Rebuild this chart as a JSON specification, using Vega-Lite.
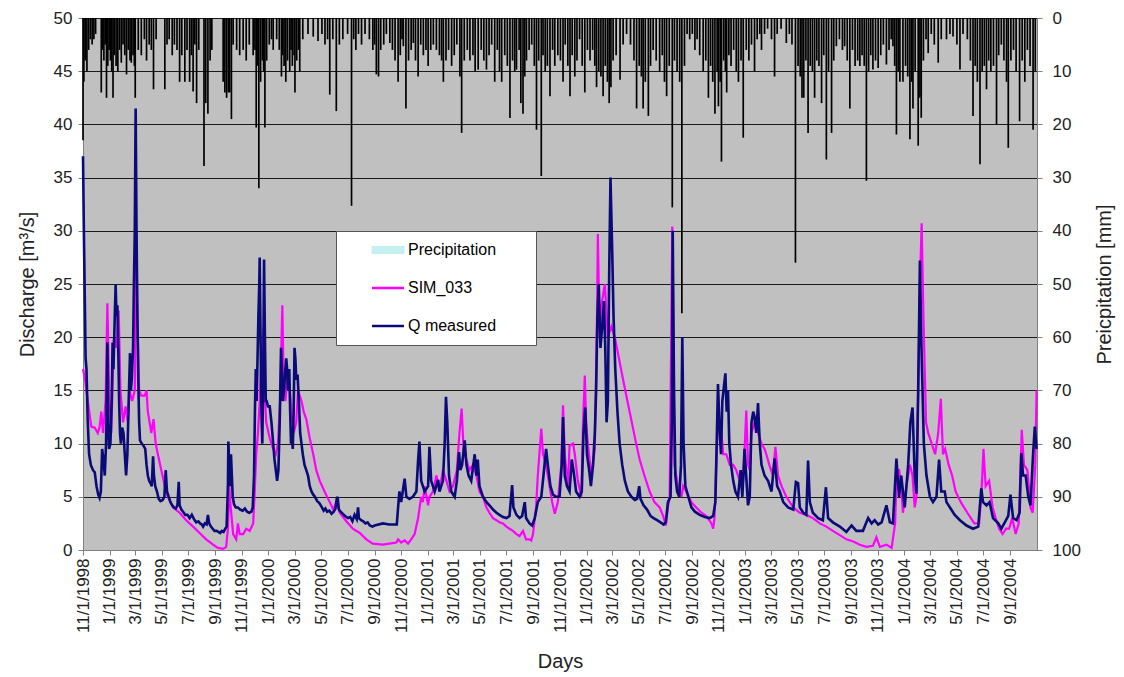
{
"$schema": "https://vega.github.io/schema/vega-lite/v6.json",
"width": 954, "height": 532,
"autosize": {"type": "none"},
"padding": {"left": 83, "top": 18, "right": 87, "bottom": 127},
"background": "white",
"config": {
 "view": {"fill": "#c0c0c0", "stroke": null},
 "font": "Liberation Sans",
 "axis": {"labelFont": "Liberation Sans", "titleFont": "Liberation Sans", "labelColor": "#222", "titleColor": "#222", "titleFontWeight": "normal", "domainColor": "#808080", "tickColor": "#808080", "tickSize": 5}
},
"datasets": {
"sim": [
{"d":"1998-11-01","v":17},{"d":"1998-11-06","v":16},{"d":"1998-11-12","v":14},{"d":"1998-11-20","v":11.6},{"d":"1998-11-28","v":11.5},{"d":"1998-12-05","v":11},{"d":"1998-12-09","v":11.5},{"d":"1998-12-13","v":13},{"d":"1998-12-17","v":11},{"d":"1998-12-23","v":14},{"d":"1998-12-27","v":23.2},{"d":"1998-12-31","v":15},
{"d":"1999-01-05","v":11},{"d":"1999-01-11","v":20},{"d":"1999-01-17","v":19},{"d":"1999-01-22","v":22.5},{"d":"1999-01-26","v":15},{"d":"1999-02-01","v":12},{"d":"1999-02-07","v":13.5},{"d":"1999-02-12","v":12},{"d":"1999-02-16","v":15},{"d":"1999-02-22","v":14},{"d":"1999-02-28","v":15},{"d":"1999-03-03","v":30},{"d":"1999-03-06","v":22},{"d":"1999-03-10","v":15},{"d":"1999-03-15","v":14.5},{"d":"1999-03-23","v":14.5},{"d":"1999-03-27","v":15},{"d":"1999-03-30","v":13},{"d":"1999-04-07","v":11},{"d":"1999-04-12","v":12.3},{"d":"1999-04-17","v":10},{"d":"1999-04-22","v":9},{"d":"1999-04-30","v":7.5},{"d":"1999-05-08","v":6},{"d":"1999-05-15","v":5},{"d":"1999-05-27","v":4},{"d":"1999-06-11","v":3.5},{"d":"1999-06-26","v":2.8},{"d":"1999-07-12","v":2.2},{"d":"1999-07-27","v":1.6},{"d":"1999-08-11","v":1.0},{"d":"1999-08-27","v":0.5},{"d":"1999-09-07","v":0.2},{"d":"1999-09-19","v":0.1},{"d":"1999-09-26","v":0.3},{"d":"1999-09-30","v":2},{"d":"1999-10-03","v":6},{"d":"1999-10-06","v":4.2},{"d":"1999-10-12","v":1.5},{"d":"1999-10-19","v":1.0},{"d":"1999-10-23","v":2.5},{"d":"1999-10-27","v":1.5},{"d":"1999-11-04","v":1.5},{"d":"1999-11-11","v":2},{"d":"1999-11-19","v":1.8},{"d":"1999-11-27","v":2.5},{"d":"1999-11-30","v":5},{"d":"1999-12-04","v":9},{"d":"1999-12-08","v":11},{"d":"1999-12-12","v":14},{"d":"1999-12-16","v":18},{"d":"1999-12-18","v":13},{"d":"1999-12-21","v":20.8},{"d":"1999-12-23","v":15},{"d":"1999-12-27","v":12},
{"d":"2000-01-04","v":10.5},{"d":"2000-01-12","v":9.5},{"d":"2000-01-18","v":9},{"d":"2000-01-23","v":10},{"d":"2000-01-28","v":14},{"d":"2000-02-02","v":23},{"d":"2000-02-05","v":16},{"d":"2000-02-09","v":14},{"d":"2000-02-15","v":17},{"d":"2000-02-23","v":13},{"d":"2000-02-28","v":11},{"d":"2000-03-05","v":12},{"d":"2000-03-09","v":15},{"d":"2000-03-17","v":14},{"d":"2000-03-22","v":13},{"d":"2000-03-28","v":12.3},{"d":"2000-04-05","v":10.5},{"d":"2000-04-13","v":9},{"d":"2000-04-20","v":7.5},{"d":"2000-04-28","v":6.5},{"d":"2000-05-09","v":5.5},{"d":"2000-05-21","v":4.5},{"d":"2000-05-29","v":3.8},{"d":"2000-06-05","v":4.5},{"d":"2000-06-13","v":3.5},{"d":"2000-06-28","v":2.7},{"d":"2000-07-13","v":2.0},{"d":"2000-07-29","v":1.6},{"d":"2000-08-13","v":1.0},{"d":"2000-08-28","v":0.6},{"d":"2000-09-20","v":0.5},{"d":"2000-10-05","v":0.6},{"d":"2000-10-21","v":0.7},{"d":"2000-10-25","v":1.0},{"d":"2000-11-01","v":0.7},{"d":"2000-11-09","v":0.9},{"d":"2000-11-17","v":0.6},{"d":"2000-11-24","v":1.0},{"d":"2000-12-02","v":1.5},{"d":"2000-12-10","v":3},{"d":"2000-12-17","v":5},{"d":"2000-12-21","v":4.5},{"d":"2000-12-25","v":6},
{"d":"2001-01-02","v":4.2},{"d":"2001-01-05","v":5},{"d":"2001-01-13","v":5.5},{"d":"2001-01-21","v":7},{"d":"2001-01-28","v":5.5},{"d":"2001-02-05","v":7.5},{"d":"2001-02-13","v":6.5},{"d":"2001-02-20","v":5.5},{"d":"2001-02-28","v":6},{"d":"2001-03-09","v":7.5},{"d":"2001-03-15","v":11},{"d":"2001-03-20","v":13.3},{"d":"2001-03-25","v":9},{"d":"2001-03-31","v":8.5},{"d":"2001-04-07","v":7.5},{"d":"2001-04-15","v":8},{"d":"2001-04-23","v":7},{"d":"2001-04-30","v":5.5},{"d":"2001-05-08","v":5},{"d":"2001-05-16","v":4},{"d":"2001-05-23","v":3.5},{"d":"2001-05-31","v":3},{"d":"2001-06-08","v":2.8},{"d":"2001-06-15","v":2.6},{"d":"2001-06-23","v":2.5},{"d":"2001-07-01","v":2.2},{"d":"2001-07-08","v":2.0},{"d":"2001-07-16","v":1.8},{"d":"2001-07-24","v":1.5},{"d":"2001-07-31","v":1.3},{"d":"2001-08-08","v":1.8},{"d":"2001-08-15","v":1.0},{"d":"2001-08-23","v":1.0},{"d":"2001-08-27","v":0.9},{"d":"2001-08-31","v":1.5},{"d":"2001-09-07","v":4},{"d":"2001-09-11","v":7},{"d":"2001-09-19","v":11.4},{"d":"2001-09-23","v":9},{"d":"2001-09-30","v":8},{"d":"2001-10-08","v":6},{"d":"2001-10-14","v":4.5},{"d":"2001-10-20","v":3.4},{"d":"2001-10-27","v":4.5},{"d":"2001-11-04","v":8},{"d":"2001-11-08","v":13.6},{"d":"2001-11-12","v":9},{"d":"2001-11-19","v":6},{"d":"2001-11-23","v":9.8},{"d":"2001-12-01","v":10},{"d":"2001-12-05","v":9},{"d":"2001-12-12","v":6.5},{"d":"2001-12-20","v":5},{"d":"2001-12-24","v":12},{"d":"2001-12-28","v":16.4},{"d":"2001-12-31","v":12},
{"d":"2002-01-04","v":10},{"d":"2002-01-08","v":8.5},{"d":"2002-01-12","v":7},{"d":"2002-01-20","v":9.5},{"d":"2002-01-25","v":22},{"d":"2002-01-27","v":29.7},{"d":"2002-01-31","v":20},{"d":"2002-02-04","v":23},{"d":"2002-02-12","v":25},{"d":"2002-02-19","v":20},{"d":"2002-02-27","v":21},{"d":"2002-03-07","v":20},{"d":"2002-03-26","v":16},{"d":"2002-04-10","v":13},{"d":"2002-04-25","v":10},{"d":"2002-05-03","v":8.5},{"d":"2002-05-14","v":7},{"d":"2002-05-26","v":5.5},{"d":"2002-06-06","v":4.5},{"d":"2002-06-18","v":4},{"d":"2002-06-26","v":3.2},{"d":"2002-07-02","v":2.3},{"d":"2002-07-07","v":4},{"d":"2002-07-11","v":5},{"d":"2002-07-17","v":30.4},{"d":"2002-07-22","v":8},{"d":"2002-07-30","v":6},{"d":"2002-08-07","v":5},{"d":"2002-08-11","v":6},{"d":"2002-08-18","v":5.5},{"d":"2002-08-30","v":4.5},{"d":"2002-09-10","v":4},{"d":"2002-09-22","v":3.5},{"d":"2002-10-03","v":3.2},{"d":"2002-10-15","v":2.5},{"d":"2002-10-19","v":2.0},{"d":"2002-10-22","v":3},{"d":"2002-10-26","v":8},{"d":"2002-10-30","v":12.3},{"d":"2002-11-07","v":11},{"d":"2002-11-11","v":9},{"d":"2002-11-18","v":9},{"d":"2002-11-26","v":8},{"d":"2002-12-04","v":8},{"d":"2002-12-11","v":7.5},{"d":"2002-12-19","v":6.5},{"d":"2002-12-27","v":6.5},
{"d":"2003-01-03","v":13.1},{"d":"2003-01-07","v":8},{"d":"2003-01-11","v":7.5},{"d":"2003-01-15","v":11},{"d":"2003-01-22","v":12},{"d":"2003-01-30","v":11},{"d":"2003-02-07","v":10},{"d":"2003-02-14","v":9.5},{"d":"2003-02-18","v":9},{"d":"2003-02-25","v":8},{"d":"2003-03-05","v":7},{"d":"2003-03-11","v":9.7},{"d":"2003-03-17","v":7},{"d":"2003-03-25","v":6},{"d":"2003-04-05","v":5},{"d":"2003-04-21","v":4},{"d":"2003-05-06","v":3.5},{"d":"2003-05-21","v":3.3},{"d":"2003-06-05","v":3.0},{"d":"2003-06-21","v":2.5},{"d":"2003-07-06","v":2.2},{"d":"2003-07-21","v":1.8},{"d":"2003-08-06","v":1.4},{"d":"2003-08-21","v":1.0},{"d":"2003-09-06","v":0.8},{"d":"2003-09-21","v":0.5},{"d":"2003-10-06","v":0.3},{"d":"2003-10-21","v":0.4},{"d":"2003-10-29","v":1.2},{"d":"2003-11-06","v":0.3},{"d":"2003-11-21","v":0.5},{"d":"2003-12-03","v":0.2},{"d":"2003-12-11","v":2.5},{"d":"2003-12-14","v":6.5},{"d":"2003-12-20","v":7.6},{"d":"2003-12-25","v":6},{"d":"2003-12-29","v":3.5},
{"d":"2004-01-06","v":6},{"d":"2004-01-14","v":8},{"d":"2004-01-20","v":7},{"d":"2004-01-25","v":4},{"d":"2004-01-29","v":5},{"d":"2004-02-02","v":15},{"d":"2004-02-06","v":25},{"d":"2004-02-10","v":30.7},{"d":"2004-02-14","v":22},{"d":"2004-02-20","v":12},{"d":"2004-02-25","v":11},{"d":"2004-03-04","v":10},{"d":"2004-03-12","v":9},{"d":"2004-03-19","v":11},{"d":"2004-03-25","v":14.2},{"d":"2004-03-30","v":9},{"d":"2004-04-04","v":9.5},{"d":"2004-04-12","v":8},{"d":"2004-04-20","v":7},{"d":"2004-04-28","v":5.5},{"d":"2004-05-10","v":4.5},{"d":"2004-05-25","v":3.5},{"d":"2004-06-10","v":2.5},{"d":"2004-06-21","v":2.5},{"d":"2004-06-26","v":5},{"d":"2004-07-01","v":9.5},{"d":"2004-07-06","v":6},{"d":"2004-07-14","v":6.5},{"d":"2004-07-22","v":4},{"d":"2004-07-29","v":3},{"d":"2004-08-06","v":2},{"d":"2004-08-14","v":1.5},{"d":"2004-08-22","v":2},{"d":"2004-08-29","v":2},{"d":"2004-09-05","v":3},{"d":"2004-09-13","v":1.5},{"d":"2004-09-20","v":2.5},{"d":"2004-09-27","v":11.3},{"d":"2004-10-02","v":8},{"d":"2004-10-10","v":7.5},{"d":"2004-10-17","v":4},{"d":"2004-10-22","v":3.5},{"d":"2004-10-28","v":8},{"d":"2004-10-31","v":15}
],
"q": [
{"d":"1998-11-01","v":37},{"d":"1998-11-03","v":30},{"d":"1998-11-05","v":24},{"d":"1998-11-07","v":18},{"d":"1998-11-09","v":17},{"d":"1998-11-12","v":12},{"d":"1998-11-15","v":9},{"d":"1998-11-19","v":8},{"d":"1998-11-24","v":7.5},{"d":"1998-11-28","v":7.3},{"d":"1998-12-02","v":6},{"d":"1998-12-06","v":5.2},{"d":"1998-12-09","v":4.9},{"d":"1998-12-12","v":5.5},{"d":"1998-12-15","v":9.5},{"d":"1998-12-18","v":8.5},{"d":"1998-12-21","v":7},{"d":"1998-12-24","v":10},{"d":"1998-12-27","v":19.5},{"d":"1998-12-29","v":12},{"d":"1998-12-31","v":9.5},
{"d":"1999-01-03","v":10},{"d":"1999-01-06","v":14},{"d":"1999-01-08","v":19.5},{"d":"1999-01-10","v":17},{"d":"1999-01-13","v":22},{"d":"1999-01-15","v":24.9},{"d":"1999-01-17","v":22},{"d":"1999-01-19","v":23},{"d":"1999-01-21","v":19},{"d":"1999-01-23","v":14},{"d":"1999-01-25","v":11},{"d":"1999-01-27","v":10},{"d":"1999-01-30","v":11.5},{"d":"1999-02-02","v":11},{"d":"1999-02-05","v":9},{"d":"1999-02-08","v":7},{"d":"1999-02-11","v":9},{"d":"1999-02-14","v":14},{"d":"1999-02-17","v":18.5},{"d":"1999-02-19","v":15},{"d":"1999-02-21","v":16},{"d":"1999-02-24","v":19},{"d":"1999-02-26","v":25},{"d":"1999-02-28","v":30},{"d":"1999-03-02","v":41.5},{"d":"1999-03-04","v":30},{"d":"1999-03-06","v":22},{"d":"1999-03-08","v":16},{"d":"1999-03-10","v":12},{"d":"1999-03-12","v":10.3},{"d":"1999-03-16","v":10},{"d":"1999-03-20","v":9.8},{"d":"1999-03-24","v":9.5},{"d":"1999-03-27","v":8},{"d":"1999-03-30","v":7},{"d":"1999-04-02","v":6.5},{"d":"1999-04-05","v":6.3},{"d":"1999-04-08","v":6},{"d":"1999-04-11","v":8.8},{"d":"1999-04-13","v":7},{"d":"1999-04-16","v":6},{"d":"1999-04-20","v":5.5},{"d":"1999-04-24","v":4.8},{"d":"1999-04-28","v":4.6},{"d":"1999-05-03","v":4.7},{"d":"1999-05-07","v":5},{"d":"1999-05-10","v":7.5},{"d":"1999-05-13","v":5.5},{"d":"1999-05-17","v":5},{"d":"1999-05-21","v":4.5},{"d":"1999-05-25","v":4.2},{"d":"1999-05-29","v":4},{"d":"1999-06-02","v":3.9},{"d":"1999-06-06","v":4.2},{"d":"1999-06-09","v":6.4},{"d":"1999-06-11","v":4.2},{"d":"1999-06-15","v":3.8},{"d":"1999-06-19","v":3.6},{"d":"1999-06-24","v":3.3},{"d":"1999-06-29","v":3.3},{"d":"1999-07-04","v":3.0},{"d":"1999-07-09","v":3.3},{"d":"1999-07-14","v":2.9},{"d":"1999-07-19","v":2.6},{"d":"1999-07-24","v":2.7},{"d":"1999-07-28","v":2.5},{"d":"1999-08-01","v":2.4},{"d":"1999-08-04","v":2.2},{"d":"1999-08-08","v":2.5},{"d":"1999-08-12","v":2.4},{"d":"1999-08-15","v":3.3},{"d":"1999-08-18","v":2.5},{"d":"1999-08-22","v":2.2},{"d":"1999-08-26","v":2.0},{"d":"1999-08-30","v":1.8},{"d":"1999-09-04","v":1.8},{"d":"1999-09-08","v":1.7},{"d":"1999-09-12","v":1.6},{"d":"1999-09-16","v":1.8},{"d":"1999-09-20","v":1.7},{"d":"1999-09-24","v":2.0},{"d":"1999-09-27","v":2.2},{"d":"1999-09-30","v":6},{"d":"1999-10-01","v":10.2},{"d":"1999-10-03","v":8},{"d":"1999-10-05","v":6},{"d":"1999-10-07","v":9},{"d":"1999-10-09","v":7},{"d":"1999-10-11","v":5},{"d":"1999-10-14","v":4.3},{"d":"1999-10-18","v":4.0},{"d":"1999-10-23","v":4.0},{"d":"1999-10-28","v":3.8},{"d":"1999-11-03","v":3.7},{"d":"1999-11-08","v":3.9},{"d":"1999-11-13","v":3.6},{"d":"1999-11-18","v":3.5},{"d":"1999-11-23","v":3.6},{"d":"1999-11-26","v":4.0},{"d":"1999-11-29","v":7},{"d":"1999-12-01","v":13},{"d":"1999-12-03","v":17},{"d":"1999-12-05","v":14},{"d":"1999-12-07","v":18},{"d":"1999-12-09","v":22},{"d":"1999-12-11","v":25},{"d":"1999-12-12","v":27.5},{"d":"1999-12-14","v":20},{"d":"1999-12-16","v":13},{"d":"1999-12-18","v":10},{"d":"1999-12-20","v":16},{"d":"1999-12-22","v":27.3},{"d":"1999-12-24","v":20},{"d":"1999-12-26","v":14},{"d":"1999-12-28","v":14},{"d":"1999-12-31","v":13.5},
{"d":"2000-01-04","v":13.5},{"d":"2000-01-08","v":12},{"d":"2000-01-12","v":10},{"d":"2000-01-15","v":8.5},{"d":"2000-01-18","v":7.5},{"d":"2000-01-21","v":6.5},{"d":"2000-01-24","v":7.5},{"d":"2000-01-27","v":12},{"d":"2000-01-30","v":19},{"d":"2000-02-01","v":17},{"d":"2000-02-03","v":14},{"d":"2000-02-06","v":15},{"d":"2000-02-09","v":17},{"d":"2000-02-11","v":18},{"d":"2000-02-13","v":17},{"d":"2000-02-15","v":15},{"d":"2000-02-18","v":17},{"d":"2000-02-20","v":13},{"d":"2000-02-22","v":10},{"d":"2000-02-24","v":10.5},{"d":"2000-02-26","v":9.5},{"d":"2000-02-28","v":13},{"d":"2000-03-01","v":19},{"d":"2000-03-03","v":18},{"d":"2000-03-05","v":16},{"d":"2000-03-08","v":16.5},{"d":"2000-03-11","v":14},{"d":"2000-03-14","v":11},{"d":"2000-03-17","v":10},{"d":"2000-03-20","v":9},{"d":"2000-03-24","v":8},{"d":"2000-03-28","v":7.5},{"d":"2000-04-01","v":7},{"d":"2000-04-05","v":6},{"d":"2000-04-09","v":5.5},{"d":"2000-04-13","v":5.2},{"d":"2000-04-17","v":5},{"d":"2000-04-22","v":4.6},{"d":"2000-04-27","v":4.4},{"d":"2000-05-03","v":4.0},{"d":"2000-05-07","v":3.7},{"d":"2000-05-11","v":3.9},{"d":"2000-05-15","v":3.6},{"d":"2000-05-20","v":3.7},{"d":"2000-05-25","v":3.4},{"d":"2000-05-30","v":3.6},{"d":"2000-06-03","v":3.9},{"d":"2000-06-06","v":4.8},{"d":"2000-06-08","v":5.0},{"d":"2000-06-11","v":3.8},{"d":"2000-06-15","v":3.6},{"d":"2000-06-20","v":3.4},{"d":"2000-06-25","v":3.2},{"d":"2000-07-02","v":3.0},{"d":"2000-07-07","v":3.1},{"d":"2000-07-12","v":2.7},{"d":"2000-07-17","v":3.3},{"d":"2000-07-22","v":2.9},{"d":"2000-07-25","v":4.0},{"d":"2000-07-27","v":3.0},{"d":"2000-08-01","v":2.8},{"d":"2000-08-06","v":2.7},{"d":"2000-08-11","v":2.5},{"d":"2000-08-16","v":2.6},{"d":"2000-08-21","v":2.3},{"d":"2000-08-27","v":2.2},{"d":"2000-09-01","v":2.3},{"d":"2000-09-20","v":2.5},{"d":"2000-10-05","v":2.4},{"d":"2000-10-22","v":2.4},{"d":"2000-10-25","v":4.0},{"d":"2000-10-28","v":5.5},{"d":"2000-11-01","v":4.5},{"d":"2000-11-09","v":6.7},{"d":"2000-11-13","v":5.0},{"d":"2000-11-20","v":4.8},{"d":"2000-11-28","v":5.0},{"d":"2000-12-06","v":5.5},{"d":"2000-12-10","v":8.5},{"d":"2000-12-13","v":10.2},{"d":"2000-12-17","v":6.5},{"d":"2000-12-25","v":5.5},
{"d":"2001-01-02","v":6.0},{"d":"2001-01-05","v":9.7},{"d":"2001-01-09","v":6.5},{"d":"2001-01-17","v":5.5},{"d":"2001-01-25","v":6.6},{"d":"2001-01-28","v":5.5},{"d":"2001-02-05","v":6.5},{"d":"2001-02-09","v":10},{"d":"2001-02-12","v":14.4},{"d":"2001-02-15","v":12},{"d":"2001-02-19","v":7},{"d":"2001-02-24","v":5.5},{"d":"2001-03-04","v":5.0},{"d":"2001-03-09","v":6.5},{"d":"2001-03-14","v":9.2},{"d":"2001-03-17","v":7.5},{"d":"2001-03-21","v":8},{"d":"2001-03-27","v":10.3},{"d":"2001-03-31","v":8},{"d":"2001-04-05","v":7},{"d":"2001-04-11","v":6.5},{"d":"2001-04-19","v":9.0},{"d":"2001-04-23","v":7},{"d":"2001-04-26","v":8.5},{"d":"2001-04-30","v":6},{"d":"2001-05-08","v":5.0},{"d":"2001-05-16","v":4.5},{"d":"2001-05-23","v":4.2},{"d":"2001-05-31","v":3.8},{"d":"2001-06-08","v":3.5},{"d":"2001-06-15","v":3.3},{"d":"2001-06-23","v":3.1},{"d":"2001-07-01","v":3.0},{"d":"2001-07-08","v":3.2},{"d":"2001-07-14","v":6.1},{"d":"2001-07-17","v":4.0},{"d":"2001-07-24","v":3.3},{"d":"2001-07-31","v":3.0},{"d":"2001-08-06","v":3.2},{"d":"2001-08-12","v":4.5},{"d":"2001-08-15","v":3.0},{"d":"2001-08-23","v":2.5},{"d":"2001-08-29","v":2.3},{"d":"2001-09-04","v":3.0},{"d":"2001-09-11","v":4.5},{"d":"2001-09-19","v":5.0},{"d":"2001-09-24","v":7},{"d":"2001-09-30","v":9.5},{"d":"2001-10-04","v":8},{"d":"2001-10-10","v":6},{"d":"2001-10-16","v":5.2},{"d":"2001-10-23","v":5.0},{"d":"2001-10-31","v":5.0},{"d":"2001-11-05","v":8},{"d":"2001-11-08","v":12.5},{"d":"2001-11-12","v":7},{"d":"2001-11-17","v":6},{"d":"2001-11-23","v":5.5},{"d":"2001-11-28","v":8.5},{"d":"2001-12-02","v":7.5},{"d":"2001-12-08","v":5.5},{"d":"2001-12-16","v":5.0},{"d":"2001-12-21","v":5.5},{"d":"2001-12-25","v":11},{"d":"2001-12-29","v":13.4},
{"d":"2002-01-02","v":9},{"d":"2002-01-07","v":7.5},{"d":"2002-01-11","v":6},{"d":"2002-01-16","v":8},{"d":"2002-01-20","v":11},{"d":"2002-01-23","v":15},{"d":"2002-01-26","v":22},{"d":"2002-01-29","v":25},{"d":"2002-02-02","v":19},{"d":"2002-02-06","v":21},{"d":"2002-02-10","v":23.4},{"d":"2002-02-13","v":19},{"d":"2002-02-16","v":12},{"d":"2002-02-19","v":14},{"d":"2002-02-22","v":26},{"d":"2002-02-25","v":35},{"d":"2002-03-01","v":28},{"d":"2002-03-04","v":22},{"d":"2002-03-08","v":17},{"d":"2002-03-13","v":13},{"d":"2002-03-18","v":10},{"d":"2002-03-24","v":8},{"d":"2002-03-30","v":6.5},{"d":"2002-04-06","v":5.5},{"d":"2002-04-14","v":5.0},{"d":"2002-04-22","v":4.7},{"d":"2002-04-27","v":4.8},{"d":"2002-05-02","v":6.0},{"d":"2002-05-05","v":4.8},{"d":"2002-05-12","v":4.2},{"d":"2002-05-20","v":3.8},{"d":"2002-05-28","v":3.2},{"d":"2002-06-04","v":3.0},{"d":"2002-06-12","v":2.8},{"d":"2002-06-20","v":2.6},{"d":"2002-06-27","v":2.4},{"d":"2002-07-02","v":2.6},{"d":"2002-07-07","v":4.5},{"d":"2002-07-13","v":5.0},{"d":"2002-07-16","v":12},{"d":"2002-07-18","v":30},{"d":"2002-07-21","v":15},{"d":"2002-07-24","v":7},{"d":"2002-07-28","v":5.5},{"d":"2002-08-02","v":5.0},{"d":"2002-08-06","v":8},{"d":"2002-08-09","v":20},{"d":"2002-08-12","v":10},{"d":"2002-08-16","v":6},{"d":"2002-08-23","v":5.0},{"d":"2002-08-30","v":4.0},{"d":"2002-09-07","v":3.6},{"d":"2002-09-18","v":3.3},{"d":"2002-09-30","v":3.1},{"d":"2002-10-11","v":3.0},{"d":"2002-10-19","v":3.2},{"d":"2002-10-24","v":4.5},{"d":"2002-10-27","v":10},{"d":"2002-10-30","v":15.6},{"d":"2002-11-03","v":11},{"d":"2002-11-06","v":9},{"d":"2002-11-09","v":14},{"d":"2002-11-13","v":15.5},{"d":"2002-11-16","v":16.6},{"d":"2002-11-19","v":13},{"d":"2002-11-22","v":15},{"d":"2002-11-25","v":10},{"d":"2002-11-29","v":8},{"d":"2002-12-04","v":6.5},{"d":"2002-12-09","v":5.5},{"d":"2002-12-15","v":5.0},{"d":"2002-12-21","v":7.5},{"d":"2002-12-25","v":5.0},{"d":"2002-12-30","v":9.5},
{"d":"2003-01-07","v":4.2},{"d":"2003-01-11","v":5},{"d":"2003-01-15","v":12},{"d":"2003-01-19","v":13},{"d":"2003-01-22","v":12.5},{"d":"2003-01-26","v":11},{"d":"2003-01-30","v":13.8},{"d":"2003-02-03","v":10},{"d":"2003-02-07","v":8},{"d":"2003-02-14","v":7},{"d":"2003-02-22","v":6.5},{"d":"2003-03-02","v":5.5},{"d":"2003-03-09","v":8.6},{"d":"2003-03-15","v":6},{"d":"2003-03-21","v":5.5},{"d":"2003-03-29","v":4.5},{"d":"2003-04-09","v":4.0},{"d":"2003-04-21","v":3.8},{"d":"2003-04-27","v":6.4},{"d":"2003-05-02","v":6.3},{"d":"2003-05-06","v":4},{"d":"2003-05-14","v":3.5},{"d":"2003-05-21","v":3.3},{"d":"2003-05-25","v":8.4},{"d":"2003-05-29","v":4.5},{"d":"2003-06-05","v":3.5},{"d":"2003-06-17","v":3.0},{"d":"2003-06-28","v":2.8},{"d":"2003-07-05","v":5.9},{"d":"2003-07-10","v":3.0},{"d":"2003-07-21","v":2.6},{"d":"2003-08-06","v":2.2},{"d":"2003-08-21","v":1.7},{"d":"2003-09-02","v":2.3},{"d":"2003-09-13","v":1.8},{"d":"2003-09-28","v":1.8},{"d":"2003-10-10","v":3.0},{"d":"2003-10-18","v":2.5},{"d":"2003-10-25","v":2.8},{"d":"2003-11-02","v":2.4},{"d":"2003-11-10","v":2.6},{"d":"2003-11-21","v":4.2},{"d":"2003-11-29","v":2.6},{"d":"2003-12-06","v":2.5},{"d":"2003-12-14","v":8.6},{"d":"2003-12-20","v":5},{"d":"2003-12-25","v":7},{"d":"2003-12-29","v":5.5},
{"d":"2004-01-02","v":4.0},{"d":"2004-01-10","v":8},{"d":"2004-01-15","v":12},{"d":"2004-01-20","v":13.4},{"d":"2004-01-25","v":7},{"d":"2004-01-29","v":5.3},{"d":"2004-02-02","v":15},{"d":"2004-02-06","v":27.2},{"d":"2004-02-09","v":20},{"d":"2004-02-15","v":10},{"d":"2004-02-21","v":7},{"d":"2004-02-29","v":5},{"d":"2004-03-07","v":4.5},{"d":"2004-03-15","v":5},{"d":"2004-03-21","v":8.5},{"d":"2004-03-26","v":5.5},{"d":"2004-04-03","v":5.5},{"d":"2004-04-07","v":4.5},{"d":"2004-04-15","v":4},{"d":"2004-04-26","v":3.3},{"d":"2004-05-08","v":2.8},{"d":"2004-05-23","v":2.3},{"d":"2004-06-07","v":2.0},{"d":"2004-06-19","v":2.2},{"d":"2004-06-26","v":5.8},{"d":"2004-06-30","v":4.5},{"d":"2004-07-08","v":4.2},{"d":"2004-07-15","v":4.5},{"d":"2004-07-23","v":3},{"d":"2004-08-04","v":2.5},{"d":"2004-08-11","v":2.0},{"d":"2004-08-19","v":2.6},{"d":"2004-08-27","v":3.2},{"d":"2004-09-01","v":5.2},{"d":"2004-09-07","v":3},{"d":"2004-09-15","v":2.8},{"d":"2004-09-22","v":3.5},{"d":"2004-09-26","v":9.1},{"d":"2004-09-30","v":7},{"d":"2004-10-06","v":7},{"d":"2004-10-12","v":5},{"d":"2004-10-17","v":4.2},{"d":"2004-10-23","v":9},{"d":"2004-10-27","v":11.6},{"d":"2004-10-31","v":9.5}
],
"p": [
{"d":"1998-11-01","p":23},{"d":"1998-11-03","p":12},{"d":"1998-11-06","p":8},{"d":"1998-11-10","p":10},{"d":"1998-11-14","p":6},{"d":"1998-11-18","p":4},{"d":"1998-11-22","p":5},{"d":"1998-11-26","p":4},{"d":"1998-11-30","p":3},{"d":"1998-12-13","p":14},{"d":"1998-12-16","p":6},{"d":"1998-12-19","p":8},{"d":"1998-12-22","p":5},{"d":"1998-12-25","p":15},{"d":"1998-12-28","p":9},{"d":"1998-12-31","p":6},
{"d":"1999-01-03","p":8},{"d":"1999-01-06","p":10},{"d":"1999-01-09","p":15},{"d":"1999-01-12","p":7},{"d":"1999-01-16","p":9},{"d":"1999-01-20","p":10},{"d":"1999-01-24","p":6},{"d":"1999-01-28","p":8.4},{"d":"1999-02-01","p":5},{"d":"1999-02-05","p":7},{"d":"1999-02-09","p":10.6},{"d":"1999-02-13","p":6},{"d":"1999-02-17","p":8},{"d":"1999-02-20","p":8.4},{"d":"1999-02-24","p":7},{"d":"1999-02-27","p":9},{"d":"1999-03-01","p":15},{"d":"1999-03-08","p":6},{"d":"1999-03-15","p":7},{"d":"1999-03-22","p":4},{"d":"1999-03-27","p":8},{"d":"1999-04-02","p":5},{"d":"1999-04-07","p":6},{"d":"1999-04-12","p":13.4},{"d":"1999-04-18","p":4},{"d":"1999-05-08","p":13.4},{"d":"1999-05-13","p":5},{"d":"1999-05-18","p":4},{"d":"1999-05-25","p":7},{"d":"1999-05-30","p":5},{"d":"1999-06-05","p":6},{"d":"1999-06-11","p":12},{"d":"1999-06-16","p":7},{"d":"1999-06-23","p":12},{"d":"1999-06-28","p":6},{"d":"1999-07-04","p":12},{"d":"1999-07-08","p":7},{"d":"1999-07-12","p":13.8},{"d":"1999-07-16","p":5},{"d":"1999-07-20","p":16},{"d":"1999-07-25","p":6},{"d":"1999-08-06","p":27.8},{"d":"1999-08-10","p":16},{"d":"1999-08-15","p":18},{"d":"1999-08-20","p":8},{"d":"1999-08-24","p":6},{"d":"1999-09-19","p":12},{"d":"1999-09-23","p":14},{"d":"1999-09-27","p":15},{"d":"1999-10-01","p":14},{"d":"1999-10-04","p":14},{"d":"1999-10-08","p":19},{"d":"1999-10-12","p":5},{"d":"1999-10-20","p":6},{"d":"1999-10-27","p":7},{"d":"1999-11-04","p":6},{"d":"1999-11-11","p":8},{"d":"1999-11-18","p":5},{"d":"1999-11-27","p":7},{"d":"1999-12-01","p":6},{"d":"1999-12-04","p":20.6},{"d":"1999-12-07","p":9},{"d":"1999-12-10","p":32},{"d":"1999-12-14","p":12},{"d":"1999-12-18","p":8},{"d":"1999-12-21","p":10},{"d":"1999-12-24","p":20.6},{"d":"1999-12-28","p":8},
{"d":"2000-01-03","p":5},{"d":"2000-01-08","p":4},{"d":"2000-01-12","p":6},{"d":"2000-01-20","p":4},{"d":"2000-01-26","p":6},{"d":"2000-01-31","p":11},{"d":"2000-02-03","p":7},{"d":"2000-02-06","p":9},{"d":"2000-02-10","p":12},{"d":"2000-02-14","p":8},{"d":"2000-02-19","p":10},{"d":"2000-02-22","p":6},{"d":"2000-02-25","p":9},{"d":"2000-02-29","p":7},{"d":"2000-03-02","p":14},{"d":"2000-03-06","p":8},{"d":"2000-03-10","p":6},{"d":"2000-03-13","p":10},{"d":"2000-03-20","p":4},{"d":"2000-04-01","p":3},{"d":"2000-04-13","p":3.5},{"d":"2000-04-24","p":4.3},{"d":"2000-05-03","p":3},{"d":"2000-05-10","p":5},{"d":"2000-05-16","p":4},{"d":"2000-05-21","p":14.4},{"d":"2000-05-28","p":4},{"d":"2000-06-05","p":17.5},{"d":"2000-06-12","p":5},{"d":"2000-06-20","p":4},{"d":"2000-07-01","p":3},{"d":"2000-07-10","p":35.3},{"d":"2000-07-15","p":4},{"d":"2000-07-20","p":6},{"d":"2000-07-26","p":3},{"d":"2000-08-02","p":5},{"d":"2000-08-10","p":3},{"d":"2000-08-20","p":4},{"d":"2000-08-28","p":6},{"d":"2000-09-01","p":5},{"d":"2000-09-05","p":10.6},{"d":"2000-09-10","p":11},{"d":"2000-09-15","p":6},{"d":"2000-09-22","p":5},{"d":"2000-09-28","p":3},{"d":"2000-10-06","p":4.7},{"d":"2000-10-12","p":6},{"d":"2000-10-18","p":8},{"d":"2000-10-25","p":12},{"d":"2000-10-30","p":7},{"d":"2000-11-03","p":4},{"d":"2000-11-06","p":5.3},{"d":"2000-11-12","p":17},{"d":"2000-11-18","p":8},{"d":"2000-11-24","p":6},{"d":"2000-11-29","p":4.7},{"d":"2000-12-04","p":8},{"d":"2000-12-10","p":11},{"d":"2000-12-16","p":5},{"d":"2000-12-22","p":7},{"d":"2000-12-28","p":6},
{"d":"2001-01-02","p":9},{"d":"2001-01-08","p":6},{"d":"2001-01-14","p":5},{"d":"2001-01-21","p":6},{"d":"2001-01-28","p":7},{"d":"2001-02-02","p":8},{"d":"2001-02-06","p":12},{"d":"2001-02-12","p":8},{"d":"2001-02-18","p":6},{"d":"2001-02-25","p":9},{"d":"2001-03-03","p":7},{"d":"2001-03-09","p":5},{"d":"2001-03-16","p":11},{"d":"2001-03-20","p":21.6},{"d":"2001-03-26","p":8},{"d":"2001-04-02","p":6},{"d":"2001-04-08","p":8},{"d":"2001-04-15","p":7},{"d":"2001-04-20","p":10},{"d":"2001-04-27","p":9.7},{"d":"2001-05-04","p":6},{"d":"2001-05-10","p":8},{"d":"2001-05-16","p":9.7},{"d":"2001-05-22","p":7},{"d":"2001-05-28","p":5},{"d":"2001-06-04","p":12},{"d":"2001-06-10","p":6},{"d":"2001-06-15","p":10},{"d":"2001-06-20","p":12},{"d":"2001-06-27","p":7},{"d":"2001-07-03","p":9},{"d":"2001-07-09","p":18.8},{"d":"2001-07-15","p":8},{"d":"2001-07-20","p":10},{"d":"2001-07-24","p":9.7},{"d":"2001-07-30","p":6},{"d":"2001-08-03","p":16},{"d":"2001-08-08","p":18},{"d":"2001-08-12","p":11},{"d":"2001-08-16","p":8},{"d":"2001-08-22","p":6},{"d":"2001-08-28","p":5},{"d":"2001-09-03","p":9},{"d":"2001-09-08","p":21},{"d":"2001-09-13","p":8},{"d":"2001-09-19","p":29.7},{"d":"2001-09-23","p":7},{"d":"2001-09-28","p":10},{"d":"2001-10-03","p":9},{"d":"2001-10-09","p":14.7},{"d":"2001-10-15","p":6},{"d":"2001-10-20","p":9},{"d":"2001-10-27","p":7},{"d":"2001-11-02","p":8},{"d":"2001-11-08","p":12},{"d":"2001-11-13","p":5},{"d":"2001-11-19","p":9},{"d":"2001-11-24","p":14.7},{"d":"2001-11-29","p":7},{"d":"2001-12-05","p":11},{"d":"2001-12-10","p":8},{"d":"2001-12-16","p":4},{"d":"2001-12-22","p":9},{"d":"2001-12-28","p":14},
{"d":"2002-01-03","p":6},{"d":"2002-01-09","p":8},{"d":"2002-01-15","p":6},{"d":"2002-01-20","p":9},{"d":"2002-01-24","p":13},{"d":"2002-01-29","p":10},{"d":"2002-02-03","p":11},{"d":"2002-02-08","p":14.7},{"d":"2002-02-13","p":9},{"d":"2002-02-18","p":12},{"d":"2002-02-22","p":16},{"d":"2002-02-26","p":13},{"d":"2002-03-03","p":8},{"d":"2002-03-10","p":7},{"d":"2002-03-19","p":11.6},{"d":"2002-03-26","p":5},{"d":"2002-04-03","p":3},{"d":"2002-04-12","p":5},{"d":"2002-04-20","p":8},{"d":"2002-04-26","p":17},{"d":"2002-05-02","p":9},{"d":"2002-05-07","p":11},{"d":"2002-05-11","p":17},{"d":"2002-05-16","p":12},{"d":"2002-05-23","p":18.4},{"d":"2002-05-28","p":9},{"d":"2002-06-03","p":6},{"d":"2002-06-10","p":8},{"d":"2002-06-18","p":10},{"d":"2002-06-24","p":7},{"d":"2002-06-29","p":12},{"d":"2002-07-04","p":14.7},{"d":"2002-07-10","p":9},{"d":"2002-07-17","p":35.6},{"d":"2002-07-22","p":8},{"d":"2002-07-28","p":10},{"d":"2002-08-03","p":12},{"d":"2002-08-08","p":55.5},{"d":"2002-08-14","p":9},{"d":"2002-08-20","p":3},{"d":"2002-08-26","p":4},{"d":"2002-09-01","p":3},{"d":"2002-09-07","p":6},{"d":"2002-09-12","p":4},{"d":"2002-09-18","p":7},{"d":"2002-09-26","p":10},{"d":"2002-10-02","p":8},{"d":"2002-10-08","p":15},{"d":"2002-10-13","p":9},{"d":"2002-10-18","p":12},{"d":"2002-10-23","p":18},{"d":"2002-10-28","p":10},{"d":"2002-10-31","p":16.6},{"d":"2002-11-04","p":12},{"d":"2002-11-07","p":27},{"d":"2002-11-12","p":8},{"d":"2002-11-16","p":10},{"d":"2002-11-19","p":14},{"d":"2002-11-24","p":7},{"d":"2002-11-29","p":9},{"d":"2002-12-05","p":6},{"d":"2002-12-11","p":10},{"d":"2002-12-16","p":12},{"d":"2002-12-22","p":8},{"d":"2002-12-27","p":22.5},
{"d":"2003-01-03","p":6},{"d":"2003-01-09","p":8},{"d":"2003-01-15","p":5},{"d":"2003-01-22","p":10},{"d":"2003-01-28","p":4},{"d":"2003-02-03","p":3},{"d":"2003-02-07","p":6},{"d":"2003-02-14","p":3},{"d":"2003-02-21","p":2},{"d":"2003-03-02","p":4},{"d":"2003-03-09","p":11},{"d":"2003-03-15","p":3},{"d":"2003-03-24","p":2},{"d":"2003-04-05","p":4.7},{"d":"2003-04-12","p":3},{"d":"2003-04-18","p":5},{"d":"2003-04-26","p":46},{"d":"2003-05-02","p":9},{"d":"2003-05-07","p":11},{"d":"2003-05-11","p":15},{"d":"2003-05-15","p":15},{"d":"2003-05-20","p":8},{"d":"2003-05-25","p":21.6},{"d":"2003-05-30","p":9},{"d":"2003-06-04","p":10},{"d":"2003-06-09","p":15},{"d":"2003-06-14","p":8},{"d":"2003-06-19","p":9},{"d":"2003-06-25","p":16},{"d":"2003-06-30","p":7},{"d":"2003-07-06","p":26.6},{"d":"2003-07-11","p":10},{"d":"2003-07-18","p":21.6},{"d":"2003-07-23","p":8},{"d":"2003-07-29","p":5.3},{"d":"2003-08-05","p":4},{"d":"2003-08-12","p":6},{"d":"2003-08-17","p":5.3},{"d":"2003-08-23","p":8},{"d":"2003-08-29","p":17},{"d":"2003-09-04","p":6},{"d":"2003-09-10","p":9},{"d":"2003-09-16","p":8},{"d":"2003-09-21","p":9},{"d":"2003-09-26","p":7},{"d":"2003-10-01","p":9},{"d":"2003-10-06","p":30.6},{"d":"2003-10-11","p":10},{"d":"2003-10-16","p":7},{"d":"2003-10-21","p":9.7},{"d":"2003-10-27","p":8},{"d":"2003-11-02","p":9.4},{"d":"2003-11-08","p":7},{"d":"2003-11-14","p":5},{"d":"2003-11-21","p":8.75},{"d":"2003-11-27","p":6},{"d":"2003-12-02","p":4},{"d":"2003-12-06","p":5.3},{"d":"2003-12-10","p":9},{"d":"2003-12-14","p":21.9},{"d":"2003-12-18","p":10},{"d":"2003-12-22","p":12},{"d":"2003-12-29","p":12},
{"d":"2004-01-04","p":9},{"d":"2004-01-09","p":11},{"d":"2004-01-14","p":22.8},{"d":"2004-01-18","p":12},{"d":"2004-01-21","p":17},{"d":"2004-01-26","p":10},{"d":"2004-02-02","p":24},{"d":"2004-02-06","p":15},{"d":"2004-02-09","p":18.75},{"d":"2004-02-14","p":8},{"d":"2004-02-20","p":4},{"d":"2004-02-25","p":6.6},{"d":"2004-03-03","p":3},{"d":"2004-03-10","p":5},{"d":"2004-03-19","p":8.4},{"d":"2004-03-26","p":4},{"d":"2004-04-07","p":4},{"d":"2004-04-15","p":3},{"d":"2004-04-22","p":3.5},{"d":"2004-05-01","p":5},{"d":"2004-05-08","p":9.7},{"d":"2004-05-15","p":3},{"d":"2004-05-25","p":4},{"d":"2004-06-01","p":8},{"d":"2004-06-07","p":18.4},{"d":"2004-06-12","p":9},{"d":"2004-06-17","p":12},{"d":"2004-06-23","p":27.5},{"d":"2004-06-28","p":10},{"d":"2004-07-03","p":9},{"d":"2004-07-08","p":13.4},{"d":"2004-07-13","p":8},{"d":"2004-07-18","p":10},{"d":"2004-07-24","p":9},{"d":"2004-07-31","p":20},{"d":"2004-08-05","p":7},{"d":"2004-08-11","p":5},{"d":"2004-08-17","p":8},{"d":"2004-08-23","p":12},{"d":"2004-08-27","p":24.4},{"d":"2004-09-02","p":8},{"d":"2004-09-08","p":6},{"d":"2004-09-14","p":10},{"d":"2004-09-22","p":19.4},{"d":"2004-09-28","p":8},{"d":"2004-10-04","p":12},{"d":"2004-10-10","p":6},{"d":"2004-10-16","p":9},{"d":"2004-10-23","p":21},{"d":"2004-10-28","p":10}
]
},
"encoding": {
 "x": {"field": "d", "type": "temporal",
  "scale": {"type": "utc", "nice": false, "domain": [{"year":1998,"month":11,"date":1,"utc":true},{"year":2004,"month":11,"date":1,"utc":true}]},
  "axis": {"title": "Days", "titleFontSize": 20, "titlePadding": 19, "format": "%-m/%-d/%Y", "labelAngle": 270, "labelFontSize": 17, "labelPadding": 3, "labelOverlap": false, "labelFlush": false, "grid": false,
   "values": [
    {"year":1998,"month":11,"date":1,"utc":true},
    {"year":1999,"month":1,"date":1,"utc":true},{"year":1999,"month":3,"date":1,"utc":true},{"year":1999,"month":5,"date":1,"utc":true},{"year":1999,"month":7,"date":1,"utc":true},{"year":1999,"month":9,"date":1,"utc":true},{"year":1999,"month":11,"date":1,"utc":true},
    {"year":2000,"month":1,"date":1,"utc":true},{"year":2000,"month":3,"date":1,"utc":true},{"year":2000,"month":5,"date":1,"utc":true},{"year":2000,"month":7,"date":1,"utc":true},{"year":2000,"month":9,"date":1,"utc":true},{"year":2000,"month":11,"date":1,"utc":true},
    {"year":2001,"month":1,"date":1,"utc":true},{"year":2001,"month":3,"date":1,"utc":true},{"year":2001,"month":5,"date":1,"utc":true},{"year":2001,"month":7,"date":1,"utc":true},{"year":2001,"month":9,"date":1,"utc":true},{"year":2001,"month":11,"date":1,"utc":true},
    {"year":2002,"month":1,"date":1,"utc":true},{"year":2002,"month":3,"date":1,"utc":true},{"year":2002,"month":5,"date":1,"utc":true},{"year":2002,"month":7,"date":1,"utc":true},{"year":2002,"month":9,"date":1,"utc":true},{"year":2002,"month":11,"date":1,"utc":true},
    {"year":2003,"month":1,"date":1,"utc":true},{"year":2003,"month":3,"date":1,"utc":true},{"year":2003,"month":5,"date":1,"utc":true},{"year":2003,"month":7,"date":1,"utc":true},{"year":2003,"month":9,"date":1,"utc":true},{"year":2003,"month":11,"date":1,"utc":true},
    {"year":2004,"month":1,"date":1,"utc":true},{"year":2004,"month":3,"date":1,"utc":true},{"year":2004,"month":5,"date":1,"utc":true},{"year":2004,"month":7,"date":1,"utc":true},{"year":2004,"month":9,"date":1,"utc":true}
   ]}
 }
},
"layer": [
 {
  "encoding": {
   "y": {"field": "v", "type": "quantitative",
    "scale": {"domain": [0, 50], "nice": false},
    "axis": {"title": "Discharge [m³/s]", "titleFontSize": 20, "titlePadding": 16, "values": [0,5,10,15,20,25,30,35,40,45,50], "labelFontSize": 17, "labelPadding": 6, "grid": true, "gridColor": "#1a1a1a", "gridWidth": 1}}
  },
  "layer": [
   {"data": {"name": "sim"}, "mark": {"type": "line", "strokeWidth": 2.2, "interpolate": "linear"},
    "encoding": {"color": {"datum": "SIM_033", "type": "nominal",
     "scale": {"domain": ["Precipitation", "SIM_033", "Q measured"], "range": ["#c4f0f0", "#ff00ff", "#0a0a78"]},
     "legend": {"title": "\u00a0", "titleOrient": "right", "titlePadding": 29, "titleFontSize": 16, "orient": "none", "legendX": 253, "legendY": 213, "fillColor": "white", "strokeColor": "#555", "padding": 11, "rowPadding": 22, "symbolSize": 1024, "symbolOffset": 33, "symbolType": "stroke", "symbolStrokeWidth": 2.5, "labelFontSize": 16, "labelFont": "Liberation Sans", "labelColor": "#000", "labelOffset": 12, "labelLimit": 300,
      "encode": {"symbols": {"update": {
       "shape": {"signal": "datum.value === 'Precipitation' ? 'M-1,-0.22H1V0.22H-1Z' : 'stroke'"},
       "fill": {"signal": "datum.value === 'Precipitation' ? '#c4f0f0' : 'transparent'"},
       "stroke": {"signal": "datum.value === 'Precipitation' ? '#2f5e5e' : (datum.value === 'SIM_033' ? '#ff00ff' : '#0a0a78')"},
       "strokeWidth": {"signal": "datum.value === 'Precipitation' ? 1 : 2.5"}}}}}}}
   },
   {"data": {"name": "q"}, "mark": {"type": "line", "strokeWidth": 2.6, "interpolate": "linear"},
    "encoding": {"color": {"datum": "Q measured", "type": "nominal"}}
   }
  ]
 },
 {
  "data": {"name": "p"},
  "mark": {"type": "rule", "color": "#000000", "strokeWidth": 1.7},
  "encoding": {
   "y": {"field": "p", "type": "quantitative",
    "scale": {"domain": [0, 100], "reverse": true, "nice": false},
    "axis": {"orient": "right", "title": "Preicpitation [mm]", "titleAngle": 270, "titleFontSize": 20, "titlePadding": 34, "values": [0,10,20,30,40,50,60,70,80,90,100], "labelFontSize": 17, "labelPadding": 10, "grid": false}},
   "y2": {"datum": 0}
  }
 }
],
"resolve": {"scale": {"y": "independent"}, "axis": {"y": "independent"}}
}
